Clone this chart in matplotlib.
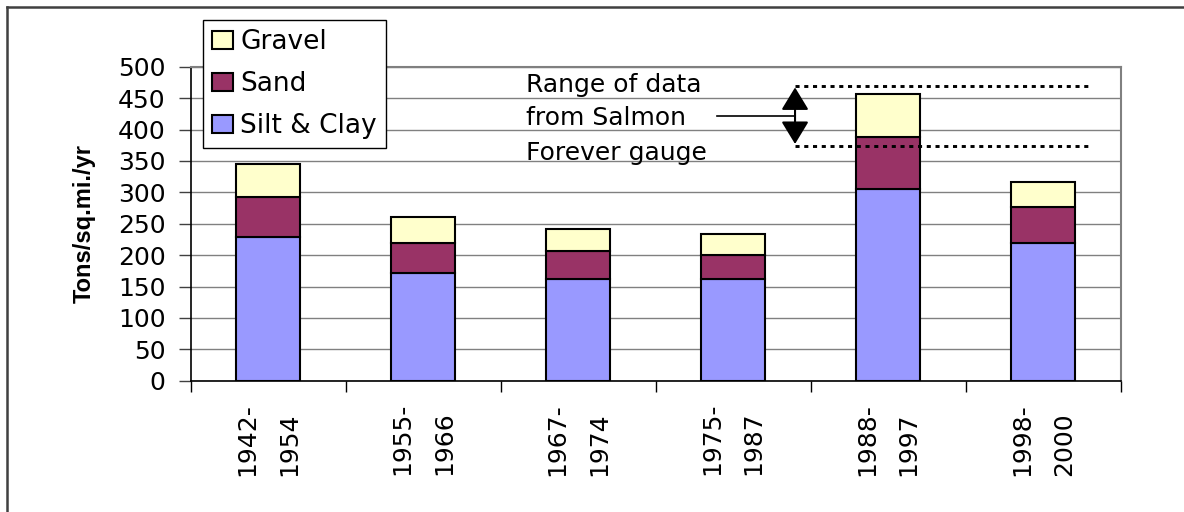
import matplotlib
matplotlib.use('Agg')
import numpy as np
import matplotlib.pyplot as plt
from matplotlib.lines import Line2D

# data (tons/sq.mi./yr)
periods = ["1942-\n1954", "1955-\n1966", "1967-\n1974", "1975-\n1987", "1988-\n1997", "1998-\n2000"]
silt_clay = [229, 172, 162, 162, 306, 220]
sand = [64, 48, 45, 38, 82, 57]
gravel = [52, 41, 35, 33, 68, 39]
gauge_range = [373, 470]  # Salmon Forever gauge low / high
note_lines = ["Range of data", "from Salmon", "Forever gauge"]

fs = 18

fig = plt.figure(figsize=(11.84, 5.12), dpi=100)
ax = fig.add_axes([0.1611, 0.2564, 0.7854, 0.6133])

x = np.arange(len(periods))
w = 0.41
silt_clay = np.array(silt_clay)
sand = np.array(sand)
gravel = np.array(gravel)

b1 = ax.bar(x, silt_clay, w, color='#9999FF', edgecolor='black', linewidth=1.5, zorder=3, label='Silt & Clay')
b2 = ax.bar(x, sand, w, bottom=silt_clay, color='#993366', edgecolor='black', linewidth=1.5, zorder=3, label='Sand')
b3 = ax.bar(x, gravel, w, bottom=silt_clay + sand, color='#FFFFCC', edgecolor='black', linewidth=1.5, zorder=3, label='Gravel')

ax.set_xlim(-0.5, len(periods) - 0.5)
ax.set_ylim(0, 500)
ax.set_yticks(np.arange(0, 501, 50))
ax.yaxis.grid(True, color='#808080', linewidth=1.0, zorder=0)
ax.set_axisbelow(True)

# category boundary ticks, labels at the centres
ax.set_xticks(x)
ax.set_xticklabels(periods, rotation=90, ha='center', va='top', multialignment='left',
                   fontsize=fs, linespacing=1.9)
ax.set_xticks(np.arange(-0.5, len(periods)), minor=True)
ax.tick_params(axis='x', which='major', length=0, pad=16)
ax.tick_params(axis='x', which='minor', length=8, width=1, color='black', direction='out')
ax.tick_params(axis='y', length=9, width=1, color='#404040', pad=9, labelsize=fs)

for s in ['left', 'bottom']:
    ax.spines[s].set_color('black')
    ax.spines[s].set_linewidth(1.2)
for s in ['top', 'right']:
    ax.spines[s].set_color('#808080')
    ax.spines[s].set_linewidth(1.5)

ax.set_ylabel('Tons/sq.mi./yr', fontsize=17, fontweight='bold', family='Liberation Sans')
ax.yaxis.set_label_coords(-0.102, 0.5)

# range of gauge data
x_arrow = 3.399
x_end = 5.30
for lvl in gauge_range:
    ax.plot([x_arrow, x_end], [lvl, lvl], color='black', linewidth=2.1,
            linestyle=(0, (1.4, 1.6)), zorder=4)
mid = (gauge_range[0] + gauge_range[1]) / 2
for tip in [gauge_range[1] - 3, gauge_range[0] + 4]:
    ax.annotate('', xy=(x_arrow, tip), xytext=(x_arrow, mid),
                arrowprops=dict(arrowstyle='-|>,head_length=1.4,head_width=0.85', color='black',
                                lw=1.5, shrinkA=0, shrinkB=0, mutation_scale=10), zorder=5)
ax.plot([2.896, x_arrow], [mid, mid], color='black', linewidth=1.2, zorder=5)

for line, yb in zip(note_lines, [459.5, 407, 351]):
    ax.text(1.66, yb, line, fontsize=fs, ha='left', va='baseline', zorder=5)

leg = fig.legend(handles=[b3, b2, b1], loc='upper left', bbox_to_anchor=(0.1712, 0.961),
                 fontsize=19, frameon=True, fancybox=False, edgecolor='black', framealpha=1,
                 handlelength=0.78, handleheight=0.68, handletextpad=0.3, labelspacing=0.6,
                 borderpad=0.35, borderaxespad=0)
leg.get_frame().set_linewidth(1.0)

# outer frame (left and top edges visible)
fx = 6.7 / 1184
fy = 1 - 6.7 / 512
fig.add_artist(Line2D([fx, fx], [0, fy], transform=fig.transFigure, color='#404040', linewidth=1.8))
fig.add_artist(Line2D([fx, 1], [fy, fy], transform=fig.transFigure, color='#404040', linewidth=1.8))

fig.savefig('out.png', dpi=100)
